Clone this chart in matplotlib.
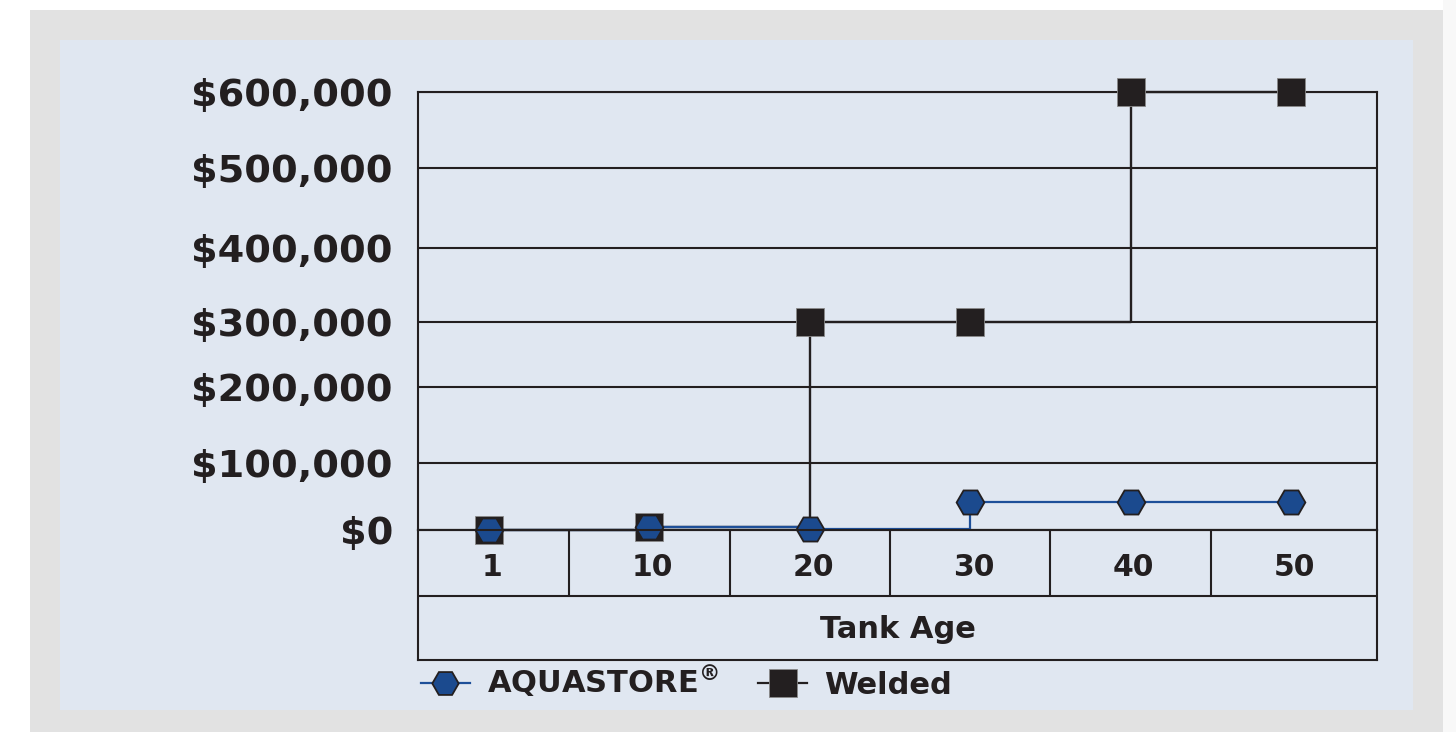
"""Tank maintenance cost over tank age: AQUASTORE vs welded."""

import matplotlib

matplotlib.use("Agg")
import matplotlib.pyplot as plt  # noqa: E402
import numpy as np
from matplotlib.patches import Rectangle
from matplotlib.lines import Line2D

# data
tank_age = ["1", "10", "20", "30", "40", "50"]
aquastore = [0, 4000, 1000, 42000, 42000, 42000]
welded = [0, 4000, 300000, 300000, 600000, 600000]
y_ticks = [0, 100000, 200000, 300000, 400000, 500000, 600000]
y_tick_labels = ["$0", "$100,000", "$200,000", "$300,000", "$400,000", "$500,000", "$600,000"]

# layout (pixels of a 1456x732 canvas)
W, H = 1456, 732
INK = "#231f20"
BLUE = "#1b4a8e"
BLUE_LINE = "#1d4f99"
PANEL = "#e0e7f1"
FRAME = "#e2e2e2"
# the gridlines in the original are not evenly spaced; mirror their heights
grid_px = [530, 463, 387, 321.5, 248, 168, 92]
grid_frac = [(530 - p) / (530 - 92) for p in grid_px]

plt.rcParams["font.family"] = ["DejaVu Sans"]
plt.rcParams["font.weight"] = "bold"

fig = plt.figure(figsize=(W / 100, H / 100), dpi=100, facecolor="white")
fig.patches.append(Rectangle((30 / W, 0), 1413 / W, 722 / H, transform=fig.transFigure,
                             facecolor=FRAME, edgecolor="none", zorder=-3))
fig.patches.append(Rectangle((1443 / W, 0), 13 / W, 1, transform=fig.transFigure,
                             facecolor="#f8f8f8", edgecolor="none", zorder=-3))
fig.patches.append(Rectangle((60 / W, 22 / H), 1353 / W, 670 / H, transform=fig.transFigure,
                             facecolor=PANEL, edgecolor="none", zorder=-2))

x = np.arange(len(tank_age), dtype=float)
xlim = ((418 - 489) / 160.4, (1377 - 489) / 160.4)

ax = fig.add_axes([418 / W, 1 - 530 / H, 959 / W, 438 / H])
ax.set_facecolor("none")


def fwd(v):
    return np.interp(v, y_ticks, grid_frac)


def inv(f):
    return np.interp(f, grid_frac, y_ticks)


ax.set_yscale("function", functions=(fwd, inv))
ax.set_ylim(0, 600000)
ax.set_xlim(*xlim)
ax.set_yticks(y_ticks)
ax.set_yticklabels(y_tick_labels, fontsize=27.5, fontweight="bold", color=INK)
ax.set_xticks([])
ax.tick_params(axis="y", length=0, pad=18)
ax.yaxis.grid(True, color=INK, linewidth=1.5)
ax.set_axisbelow(True)
for spine in ax.spines.values():
    spine.set_color(INK)
    spine.set_linewidth(1.5)

ax.plot(x, welded, drawstyle="steps-post", color=INK, linewidth=1.7, marker="s",
        markersize=20, markerfacecolor=INK, markeredgecolor="#8a8a8a", markeredgewidth=0.6,
        clip_on=False, zorder=4)
ax.plot(x, aquastore, drawstyle="steps-post", color=BLUE_LINE, linewidth=1.6, marker="H",
        markersize=20, markerfacecolor=BLUE, markeredgecolor=INK, markeredgewidth=1.3,
        clip_on=False, zorder=5)

# table under the plot: tick labels row and axis title row
tax = fig.add_axes([418 / W, 1 - 660 / H, 959 / W, 130 / H])
tax.set_facecolor("none")
tax.set_xlim(*xlim)
tax.set_ylim(0, 1)
tax.set_xticks([])
tax.set_yticks([])
for spine in tax.spines.values():
    spine.set_color(INK)
    spine.set_linewidth(1.5)
row_split = (660 - 596) / 130
tax.axhline(row_split, color=INK, linewidth=1.5)
tax.vlines(x[:-1] + 0.5, row_split, 1, color=INK, linewidth=1.5)
for xi, label in zip(x, tank_age):
    tax.text(xi + 0.02, (660 - 568) / 130, label, ha="center", va="center",
             fontsize=21.5, fontweight="bold", color=INK)
tax.text(0.5, (660 - 629) / 130, "Tank Age", transform=tax.transAxes, ha="center",
         va="center", fontsize=22, fontweight="bold", color=INK)

handles = [
    Line2D([], [], color=BLUE_LINE, linewidth=1.6, marker="H", markersize=19,
           markerfacecolor=BLUE, markeredgecolor=INK, markeredgewidth=1.3),
    Line2D([], [], color=INK, linewidth=1.6, marker="s", markersize=20,
           markerfacecolor=INK, markeredgecolor="#8a8a8a", markeredgewidth=0.6),
]
fig.legend(handles, [r"AQUASTORE$^{\circledR}$", "Welded"], loc="center left",
           bbox_to_anchor=(421 / W, 1 - 682 / H), ncol=2, frameon=False,
           prop={"weight": "bold", "size": 22}, labelcolor=INK, handlelength=1.6,
           handletextpad=0.55, columnspacing=1.3, borderpad=0, borderaxespad=0)

fig.savefig("out.png", dpi=100)
plt.close(fig)
